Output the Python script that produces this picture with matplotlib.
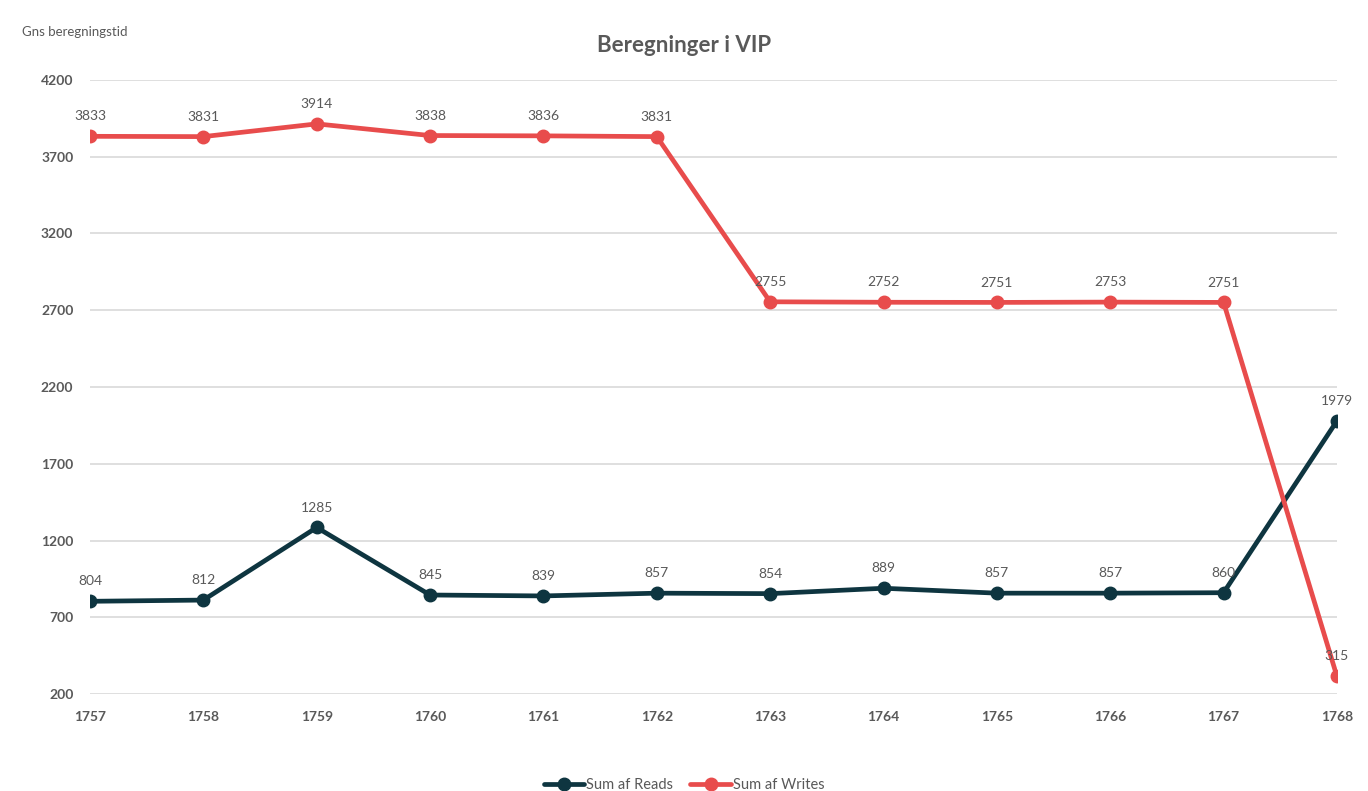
import matplotlib.pyplot as plt

plt.rcParams["font.family"] = ["Lato", "DejaVu Sans"]

years = ["1757", "1758", "1759", "1760", "1761", "1762",
         "1763", "1764", "1765", "1766", "1767", "1768"]
reads = [804, 812, 1285, 845, 839, 857, 854, 889, 857, 857, 860, 1979]
writes = [3833, 3831, 3914, 3838, 3836, 3831, 2755, 2752, 2751, 2753, 2751, 315]

red = "#E84C4C"
dark = "#0E3540"
grey = "#595959"

fig = plt.figure(figsize=(13.68, 7.91), dpi=100)
ax = fig.add_axes([0.0658, 0.1226, 0.9115, 0.7763])

x = list(range(len(years)))
ax.plot(x, reads, color=dark, lw=3.4, marker="o", ms=9, label="Sum af Reads",
        solid_capstyle="round", zorder=3)
ax.plot(x, writes, color=red, lw=3.4, marker="o", ms=9, label="Sum af Writes",
        solid_capstyle="round", zorder=3)

for xi, v in zip(x, reads):
    ax.annotate(str(v), (xi, v), xytext=(0, 10), textcoords="offset points",
                ha="center", va="bottom", fontsize=10, color=grey)
for xi, v in zip(x, writes):
    ax.annotate(str(v), (xi, v), xytext=(0, 10), textcoords="offset points",
                ha="center", va="bottom", fontsize=10, color=grey)

ax.set_xlim(0, 11)
ax.set_ylim(200, 4200)
ax.set_yticks(range(200, 4201, 500))
ax.set_xticks(x)
ax.set_xticklabels(years)
ax.grid(axis="y", color="#D9D9D9", lw=1.2)
ax.set_axisbelow(True)
for s in ax.spines.values():
    s.set_visible(False)
ax.tick_params(length=0, colors=grey, labelsize=10)
ax.tick_params(axis="y", pad=12)
ax.tick_params(axis="x", pad=12)
for lab in ax.get_xticklabels() + ax.get_yticklabels():
    lab.set_fontweight("bold")

fig.text(0.5, 0.942, "Beregninger i VIP", ha="center", va="center",
         fontsize=16, fontweight="bold", color=grey)
fig.text(0.016, 0.959, "Gns beregningstid", ha="left", va="center",
         fontsize=9.5, color=grey)

fig.legend(loc="lower center", bbox_to_anchor=(0.5, -0.018), ncol=2, frameon=False,
           fontsize=10.5, labelcolor=grey, handlelength=2.8, handletextpad=0.1,
           columnspacing=1.2)

fig.savefig("out.png", dpi=100, facecolor="white")
